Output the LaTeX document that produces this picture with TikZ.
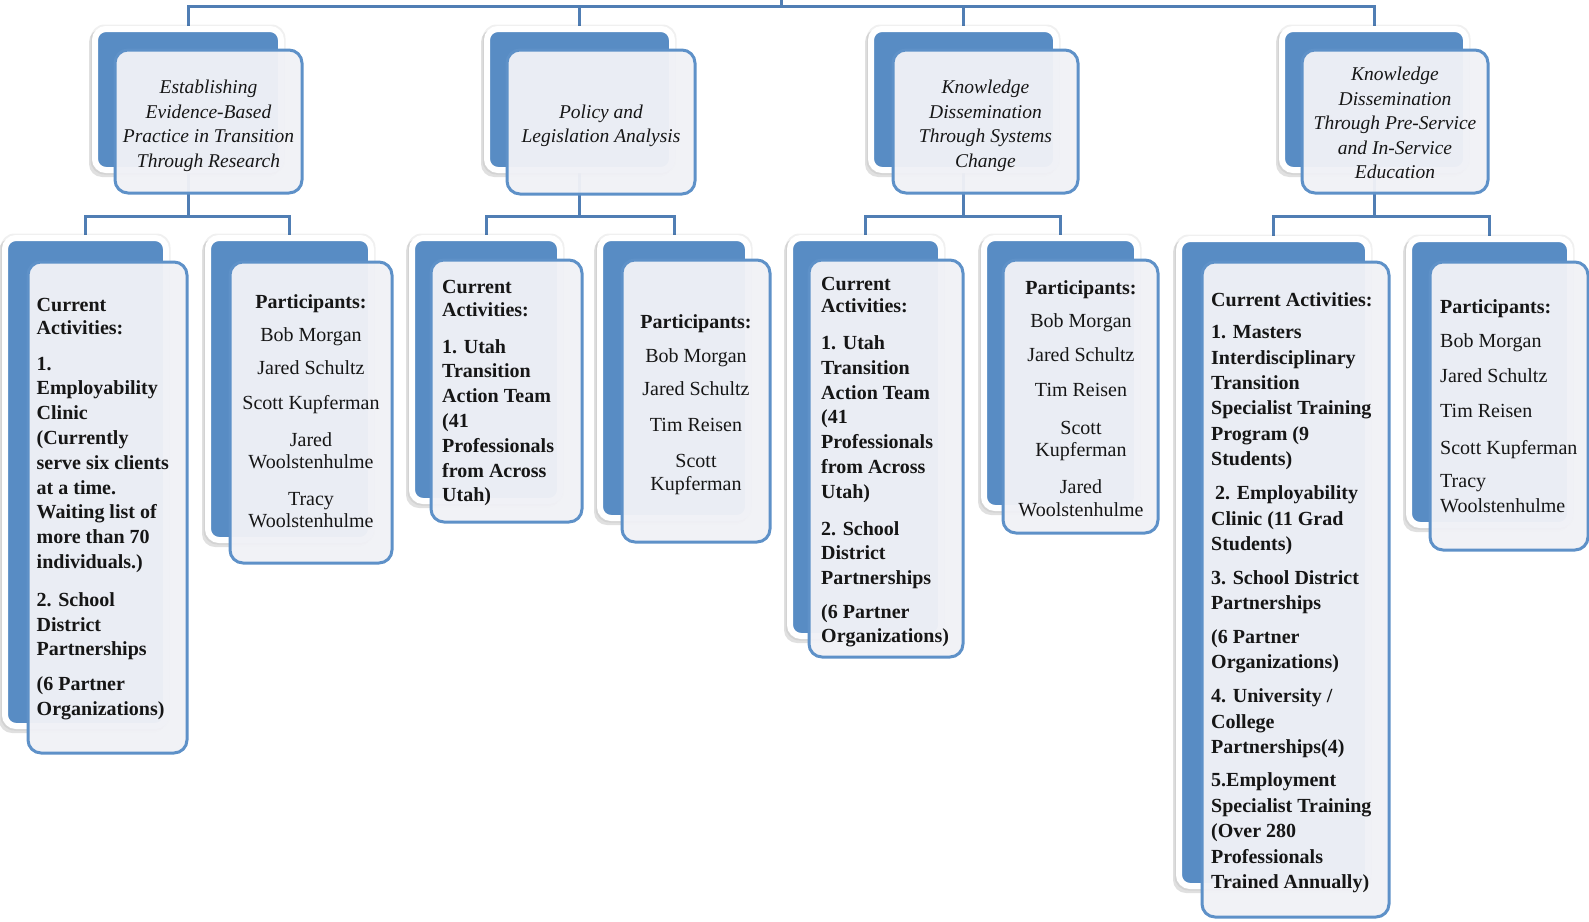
\documentclass[tikz,border=0pt]{standalone}
\usepackage{fontspec}
\setmainfont{Liberation Serif}
\usetikzlibrary{calc}
\definecolor{bblue}{RGB}{88,140,196}
\definecolor{fblue}{RGB}{94,145,200}
\definecolor{lblue}{RGB}{80,126,180}
\definecolor{ffill}{RGB}{240,241,246}
\definecolor{txt}{RGB}{22,22,22}
\pgfdeclarelayer{bg}
\pgfsetlayers{bg,main}
\tikzset{
  conn/.style={draw=lblue, line width=3pt},
  backbox/.style={fill=bblue, draw=white, line width=6pt, rounded corners=11pt, inner sep=0pt},
  frontbox/.style={draw=fblue, line width=3pt, rounded corners=13pt, fill=ffill, fill opacity=0.96, inner sep=0pt},
  toptext/.style={inner sep=0pt, align=center, anchor=north, text=txt, font=\fontsize{19.5}{24.5}\selectfont\itshape},
  acttext/.style={inner sep=0pt, align=left, anchor=north west, text=txt, font=\fontsize{20}{24.8}\selectfont\bfseries},
  parttext/.style={inner sep=0pt, align=center, anchor=north, text=txt, font=\fontsize{20}{21.5}\selectfont},
}
% name, back x1,y1,x2,y2, front x1,y1,x2,y2 (pixel coordinates, y downward)
\newcommand\mkpair[9]{%
  \fill[black,opacity=.06,rounded corners=14pt] ({#2-7.5},{#3-7.5}) rectangle ({#4+7.5},{#5+7.5});
  \fill[black,opacity=.12,rounded corners=13pt] ({#2-9},{#3-3}) rectangle ({#4+3},{#5+10});
  \node[backbox,minimum width={(#4-#2+6)*1pt},minimum height={(#5-#3+6)*1pt}] (#1) at ({(#2+#4)/2},{(#3+#5)/2}) {};
  \node[frontbox,minimum width={(#8-#6)*1pt},minimum height={(#9-#7)*1pt}] (#1f) at ({(#6+#8)/2},{(#7+#9)/2}) {};
}
\begin{document}
\begin{tikzpicture}[x=1pt,y=-1pt]
\useasboundingbox (0,0) rectangle (1589,921);

% top level
\mkpair{t1}{98}{32}{278}{167}{115}{50}{302}{193}
\mkpair{t2}{490}{32}{669}{167}{507}{50}{695}{194}
\mkpair{t3}{874}{32}{1053}{167}{893}{50}{1078}{193}
\mkpair{t4}{1285}{32}{1463}{167}{1302}{50}{1488}{193}

% second level
\mkpair{c1a}{8}{241}{163}{723}{28}{262}{187}{753}
\mkpair{c1b}{211}{241}{368}{537}{230}{262}{392}{563}
\mkpair{c2a}{415}{241}{557}{498}{431}{260}{582}{522}
\mkpair{c2b}{603}{241}{745}{515}{622}{260}{770}{542}
\mkpair{c3a}{793}{241}{938}{633}{809}{260}{963}{657}
\mkpair{c3b}{987}{241}{1134}{505}{1003}{260}{1158}{533}
\mkpair{c4a}{1182}{242}{1365}{883}{1202}{262}{1389}{917}
\mkpair{c4b}{1412}{242}{1567}{522}{1430}{262}{1588}{550}

% connectors
\coordinate (hub) at (781,6);
\coordinate (topend) at (781,-3);
\coordinate (lv2) at (0,216);
\coordinate (h1) at (t1.south |- lv2);
\coordinate (h2) at (t2.south |- lv2);
\coordinate (h3) at (t3.south |- lv2);
\coordinate (h4) at (t4.south |- lv2);
\begin{pgfonlayer}{bg}
  \draw[conn] (hub) -- (topend);
  \draw[conn] (t1.north) |- (hub);
  \draw[conn] (t2.north) |- (hub);
  \draw[conn] (t3.north) |- (hub);
  \draw[conn] (t4.north) |- (hub);
  \draw[conn] (t1.south) -- (h1);
  \draw[conn] (t2.south) -- (h2);
  \draw[conn] (t3.south) -- (h3);
  \draw[conn] (t4.south) -- (h4);
  \draw[conn] (c1a.north) |- (h1) -| (c1b.north);
  \draw[conn] (c2a.north) |- (h2) -| (c2b.north);
  \draw[conn] (c3a.north) |- (h3) -| (c3b.north);
  \draw[conn] (c4a.north) |- (h4) -| (c4b.north);
\end{pgfonlayer}

% top texts
\node[toptext] (x1) at (208.5,80) {Establishing\\Evidence-Based\\Practice in Transition\\Through Research};
\node[toptext] (x2) at (601,104.5) {Policy and\\Legislation Analysis};
\node[toptext] (x3) at (985.5,80) {Knowledge\\Dissemination\\Through Systems\\Change};
\node[toptext] (x4) at (1395,67) {Knowledge\\Dissemination\\Through Pre-Service\\and In-Service\\Education};

% activities
\node[acttext] (y1a) at (36.5,298) {Current\\[-2pt]Activities:\\[11pt]1.\\Employability\\Clinic\\(Currently\\serve six clients\\at a time.\\Waiting list of\\more than 70\\individuals.)\\[13pt]2. School\\District\\Partnerships\\[10pt](6 Partner\\Organizations)};
\node[acttext] (y2a) at (442,280) {Current\\[-2pt]Activities:\\[12pt]1. Utah\\Transition\\Action Team\\(41\\Professionals\\from Across\\Utah)};
\node[acttext] (y3a) at (821,277) {Current\\[-2.5pt]Activities:\\[12pt]1. Utah\\Transition\\Action Team\\(41\\Professionals\\from Across\\Utah)\\[12pt]2. School\\District\\Partnerships\\[8.5pt](6 Partner\\Organizations)};
\node[acttext, font=\fontsize{20}{25.4}\selectfont\bfseries] (y4a) at (1211,292) {Current Activities:\\[7.2pt]1. Masters\\Interdisciplinary\\Transition\\Specialist Training\\Program (9\\Students)\\[8.7pt]\hspace*{4pt}2. Employability\\Clinic (11 Grad\\Students)\\[8.6pt]3. School District\\Partnerships\\[8pt](6 Partner\\Organizations)\\[8.6pt]4. University /\\College\\Partnerships(4)\\[8pt]5.Employment\\Specialist Training\\(Over 280\\Professionals\\Trained Annually)};

% participants
\node[parttext] (y1b) at (311,294) {\textbf{Participants:}\\[11.5pt]Bob Morgan\\[12pt]Jared Schultz\\[13pt]Scott Kupferman\\[16pt]Jared\\Woolstenhulme\\[16pt]Tracy\\Woolstenhulme};
\node[parttext] (y2b) at (696,314) {\textbf{Participants:}\\[12.5pt]Bob Morgan\\[11.5pt]Jared Schultz\\[14.5pt]Tim Reisen\\[14.5pt]Scott\\[1.5pt]Kupferman};
\node[parttext] (y3b) at (1081,280) {\textbf{Participants:}\\[11.5pt]Bob Morgan\\[12.5pt]Jared Schultz\\[13.5pt]Tim Reisen\\[16.5pt]Scott\\[0.5pt]Kupferman\\[15.5pt]Jared\\[1.5pt]Woolstenhulme};
\node[parttext, align=left, anchor=north west] (y4b) at (1440,299) {\textbf{Participants:}\\[13pt]Bob Morgan\\[13pt]Jared Schultz\\[13.5pt]Tim Reisen\\[15.5pt]Scott Kupferman\\[11.5pt]Tracy\\[3.5pt]Woolstenhulme};
\end{tikzpicture}
\end{document}
